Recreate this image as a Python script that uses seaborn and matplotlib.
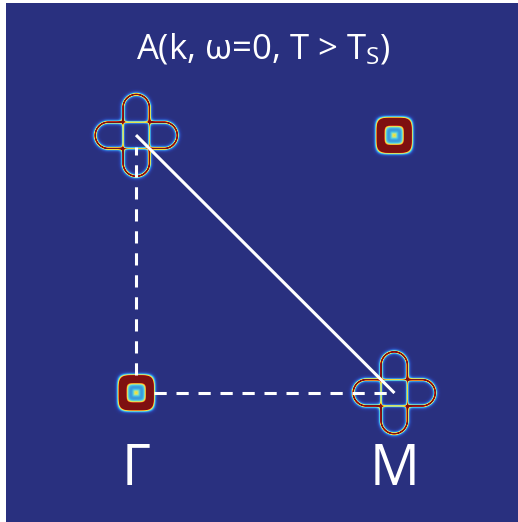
import numpy as np
import matplotlib
matplotlib.use("Agg")
import matplotlib.pyplot as plt
from matplotlib.colors import LinearSegmentedColormap
import seaborn as sns

# Momentum window (units of the zone spacing)
kx_range = [-0.503, 1.478]
ky_range = [-0.500, 1.512]
nk = [512, 519]

# Hole-like pockets (rounded squares) at Gamma and the zone corner
hole_centers = [(0.0, 0.0), (1.0, 1.0)]
hole_radius = 0.054
hole_width = 0.0150
hole_shape = 4.5

# Electron-like pockets: two crossed elongated lobes at each site
elec_centers = [(1.0, 0.0), (0.0, 1.0)]
lobe_half_length = 0.159
lobe_half_width = 0.051

# High-symmetry point labels
point_names = ["Γ", "M"]
point_k = [(0.0, 0.0), (1.0, 0.0)]
corner_k = (0.0, 1.0)

title = "A(k, ω=0, T > T$_{S}$)"

kx = np.linspace(kx_range[0], kx_range[1], nk[0])
ky = np.linspace(ky_range[1], ky_range[0], nk[1])
KX, KY = np.meshgrid(kx, ky)
px = 1.0 / 258.5

A = np.zeros_like(KX)

for cx, cy in hole_centers:
    dx, dy = KX - cx, KY - cy
    r = (np.abs(dx) ** hole_shape + np.abs(dy) ** hole_shape) ** (1.0 / hole_shape)
    ring = 2.0 * np.exp(-((r - hole_radius) / hole_width) ** 2)
    inside = 0.28 / (1.0 + np.exp((r - hole_radius + 2 * px) / (1.5 * px)))
    dot = 0.38 * np.exp(-(r / (3.0 * px)) ** 2)
    A += ring + inside + dot


def lobe_dist(u, v, half_len, half_wid):
    # signed distance to a stadium elongated along u
    seg = np.clip(u, -(half_len - half_wid), half_len - half_wid)
    return np.hypot(u - seg, v) - half_wid


for cx, cy in elec_centers:
    dx, dy = KX - cx, KY - cy
    d1 = lobe_dist(dx, dy, lobe_half_length, lobe_half_width)
    d2 = lobe_dist(dy, dx, lobe_half_length, lobe_half_width)
    for d, d_other in ((d1, d2), (d2, d1)):
        inner = d_other < 0.0
        core = np.where(inner, 0.52, 0.78)
        halo = np.where(inner, 0.14, 0.36)
        A += core * np.exp(-(d / (1.1 * px)) ** 2) + halo * np.exp(-(d / (3.0 * px)) ** 2)

cmap = LinearSegmentedColormap.from_list(
    "spectral_jet",
    [(0.00, "#29307f"), (0.08, "#2a3a9a"), (0.22, "#2f6cd0"), (0.38, "#45c3e6"),
     (0.52, "#a6e3a0"), (0.64, "#f2e23e"), (0.78, "#e8761f"), (0.90, "#b61c17"),
     (1.00, "#7e1010")])

fig = plt.figure(figsize=(5.18, 5.22), dpi=100, facecolor="white")
pos = [6 / 518, 0.0, 512 / 518, 519 / 522]
ax = fig.add_axes(pos)
sns.heatmap(A, cmap=cmap, vmin=0, vmax=1, cbar=False, xticklabels=False,
            yticklabels=False, ax=ax, rasterized=True)
ax.set_axis_off()

ov = fig.add_axes(pos)
ov.set_xlim(kx_range)
ov.set_ylim(ky_range)
ov.patch.set_alpha(0)
ov.set_axis_off()

font = ["Open Sans", "DejaVu Sans"]
plt.rcParams["mathtext.default"] = "regular"

# Path through the zone
ov.plot([corner_k[0], point_k[1][0]], [corner_k[1], point_k[1][1]], color="white", lw=2.2,
        solid_capstyle="butt")
ov.plot([point_k[0][0], corner_k[0]], [0.07, corner_k[1] - 0.045], color="white", lw=2.2,
        dashes=(4, 3.2))
ov.plot([0.07, point_k[1][0]], [point_k[0][1], point_k[1][1]], color="white", lw=2.2,
        dashes=(4, 3.2))

for name, (x, y) in zip(point_names, point_k):
    ov.text(x, y - 0.30, name, color="white", fontsize=40, family=font,
            ha="center", va="center")

ov.text(0.495, 1.33, title, color="white", fontsize=25, family=font,
        ha="center", va="center")

fig.savefig("out.png", dpi=100, facecolor="white")
